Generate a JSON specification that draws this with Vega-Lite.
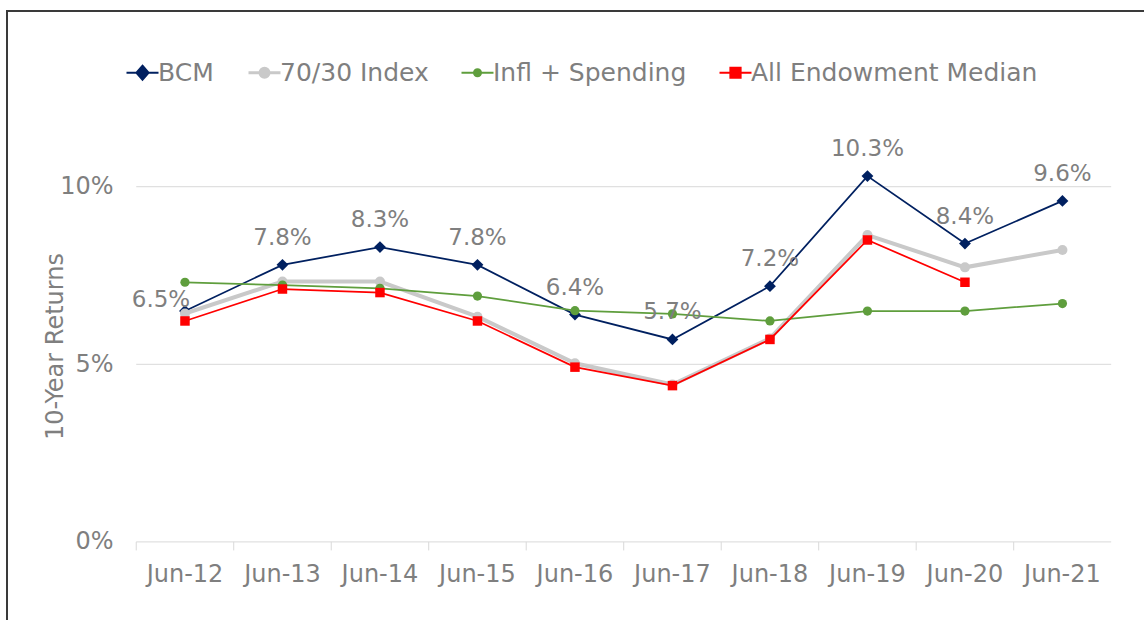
{
  "$schema": "https://vega.github.io/schema/vega-lite/v6.json",
  "width": 1145,
  "height": 617,
  "autosize": {"type": "none"},
  "padding": {"left": 7, "top": 11, "right": -8, "bottom": -8},
  "background": "white",
  "config": {
    "view": {"stroke": "#3a3a3a", "strokeWidth": 2},
    "font": "DejaVu Sans",
    "axis": {
      "labelFont": "DejaVu Sans", "titleFont": "DejaVu Sans",
      "labelColor": "#7f7f7f", "titleColor": "#7f7f7f",
      "labelFontSize": 24, "titleFontSize": 24, "titleFontWeight": "normal",
      "grid": false, "domain": false, "ticks": false
    },
    "axisX": {"labelAngle": 0, "offset": -86, "labelPadding": 32, "labelBaseline": "middle"},
    "axisY": {"offset": -129, "labelPadding": 23, "titleX": -81, "titleY": 335, "titleAngle": -90, "titleAlign": "center", "titleBaseline": "middle"}
  },
  "datasets": {
    "main": [
      {"d": "Jun-12", "s": "BCM", "v": 0.065},
      {"d": "Jun-13", "s": "BCM", "v": 0.078},
      {"d": "Jun-14", "s": "BCM", "v": 0.083},
      {"d": "Jun-15", "s": "BCM", "v": 0.078},
      {"d": "Jun-16", "s": "BCM", "v": 0.064},
      {"d": "Jun-17", "s": "BCM", "v": 0.057},
      {"d": "Jun-18", "s": "BCM", "v": 0.072},
      {"d": "Jun-19", "s": "BCM", "v": 0.103},
      {"d": "Jun-20", "s": "BCM", "v": 0.084},
      {"d": "Jun-21", "s": "BCM", "v": 0.096},
      {"d": "Jun-12", "s": "70/30 Index", "v": 0.0643},
      {"d": "Jun-13", "s": "70/30 Index", "v": 0.0733},
      {"d": "Jun-14", "s": "70/30 Index", "v": 0.0733},
      {"d": "Jun-15", "s": "70/30 Index", "v": 0.0634},
      {"d": "Jun-16", "s": "70/30 Index", "v": 0.0503},
      {"d": "Jun-17", "s": "70/30 Index", "v": 0.0443},
      {"d": "Jun-18", "s": "70/30 Index", "v": 0.0573},
      {"d": "Jun-19", "s": "70/30 Index", "v": 0.0864},
      {"d": "Jun-20", "s": "70/30 Index", "v": 0.0773},
      {"d": "Jun-21", "s": "70/30 Index", "v": 0.0822},
      {"d": "Jun-12", "s": "Infl + Spending", "v": 0.0731},
      {"d": "Jun-13", "s": "Infl + Spending", "v": 0.0723},
      {"d": "Jun-14", "s": "Infl + Spending", "v": 0.0714},
      {"d": "Jun-15", "s": "Infl + Spending", "v": 0.0692},
      {"d": "Jun-16", "s": "Infl + Spending", "v": 0.0651},
      {"d": "Jun-17", "s": "Infl + Spending", "v": 0.0642},
      {"d": "Jun-18", "s": "Infl + Spending", "v": 0.0622},
      {"d": "Jun-19", "s": "Infl + Spending", "v": 0.065},
      {"d": "Jun-20", "s": "Infl + Spending", "v": 0.065},
      {"d": "Jun-21", "s": "Infl + Spending", "v": 0.0671},
      {"d": "Jun-12", "s": "All Endowment Median", "v": 0.0622},
      {"d": "Jun-13", "s": "All Endowment Median", "v": 0.0712},
      {"d": "Jun-14", "s": "All Endowment Median", "v": 0.0702},
      {"d": "Jun-15", "s": "All Endowment Median", "v": 0.0622},
      {"d": "Jun-16", "s": "All Endowment Median", "v": 0.0492},
      {"d": "Jun-17", "s": "All Endowment Median", "v": 0.044},
      {"d": "Jun-18", "s": "All Endowment Median", "v": 0.057},
      {"d": "Jun-19", "s": "All Endowment Median", "v": 0.085},
      {"d": "Jun-20", "s": "All Endowment Median", "v": 0.0731}
    ],
    "grid": [{"g": 0}, {"g": 0.05}, {"g": 0.1}]
  },
  "data": {"name": "main"},
  "encoding": {
    "x": {
      "field": "d", "type": "nominal", "bandPosition": 0.5, "title": null,
      "scale": {"type": "band", "domain": ["Jun-12","Jun-13","Jun-14","Jun-15","Jun-16","Jun-17","Jun-18","Jun-19","Jun-20","Jun-21"], "paddingInner": 0, "paddingOuter": 0.872, "align": 0.76}
    },
    "y": {
      "field": "v", "type": "quantitative", "title": "10-Year Returns",
      "scale": {"domain": [-0.02424, 0.14947], "nice": false, "zero": false},
      "axis": {"values": [0, 0.05, 0.1], "format": ".0%"}
    }
  },
  "layer": [
    {
      "data": {"name": "grid"},
      "mark": {"type": "rule", "color": "#d9d9d9", "strokeWidth": 1},
      "encoding": {
        "y": {"field": "g", "type": "quantitative", "title": "10-Year Returns", "axis": {"values": [0, 0.05, 0.1], "format": ".0%"}},
        "x": {"datum": "Jun-12", "type": "nominal", "bandPosition": 0, "title": null},
        "x2": {"datum": "Jun-21", "bandPosition": 1}
      }
    },
    {
      "transform": [{"filter": "datum.s === 'BCM'"}],
      "mark": {"type": "rule", "color": "#d9d9d9", "strokeWidth": 1},
      "encoding": {
        "x": {"field": "d", "type": "nominal", "bandPosition": 0, "title": null},
        "y": {"datum": 0, "type": "quantitative", "title": "10-Year Returns", "axis": {"values": [0, 0.05, 0.1], "format": ".0%"}},
        "y2": {"datum": -0.0024}
      }
    },
    {
      "data": {"values": [{}]},
      "mark": {"type": "rule", "color": "#d9d9d9", "strokeWidth": 1},
      "encoding": {
        "x": {"datum": "Jun-21", "type": "nominal", "bandPosition": 1, "title": null},
        "y": {"datum": 0, "type": "quantitative", "title": "10-Year Returns", "axis": {"values": [0, 0.05, 0.1], "format": ".0%"}},
        "y2": {"datum": -0.0024}
      }
    },
    {
      "mark": {"type": "point", "opacity": 0, "filled": true},
      "encoding": {
        "color": {
          "field": "s", "type": "nominal",
          "scale": {"domain": ["BCM", "70/30 Index", "Infl + Spending", "All Endowment Median"], "range": ["#002060", "#c9c9c9", "#5f9e3d", "#ff0000"]},
          "legend": {
            "title": null, "orient": "none", "legendX": 123, "legendY": 49, "direction": "horizontal",
            "labelFont": "DejaVu Sans", "labelFontSize": 25, "labelColor": "#7f7f7f", "labelLimit": 500,
            "symbolSize": 1024, "labelOffset": 3, "columnPadding": 28, "padding": 0, "symbolOpacity": 1,
            "encode": {"symbols": {"update": {
              "stroke": {"scale": "color", "field": "value"},
              "fill": {"scale": "color", "field": "value"},
              "strokeWidth": {"signal": "datum.value === '70/30 Index' ? 3 : 2"},
              "opacity": {"value": 1},
              "size": {"value": 1024}
            }}}
          }
        },
        "shape": {
          "field": "s", "type": "nominal",
          "scale": {"domain": ["BCM", "70/30 Index", "Infl + Spending", "All Endowment Median"],
            "range": [
              "M-1,0H1M0,-0.44L0.38,0L0,0.44L-0.38,0Z",
              "M-1,0H1M-0.28,0A0.28,0.28,0,1,0,0.28,0A0.28,0.28,0,1,0,-0.28,0Z",
              "M-1,0H1M-0.22,0A0.22,0.22,0,1,0,0.22,0A0.22,0.22,0,1,0,-0.22,0Z",
              "M-1,0H1M-0.32,-0.32H0.32V0.32H-0.32Z"
            ]},
          "legend": {
            "title": null, "orient": "none", "legendX": 123, "legendY": 49, "direction": "horizontal",
            "labelFont": "DejaVu Sans", "labelFontSize": 25, "labelColor": "#7f7f7f", "labelLimit": 500,
            "symbolSize": 1024, "labelOffset": 3, "columnPadding": 28, "padding": 0, "symbolOpacity": 1
          }
        }
      }
    },
    {
      "transform": [{"filter": "datum.s === 'BCM'"}],
      "mark": {"type": "line", "color": "#002060", "strokeWidth": 1.75, "point": {"filled": true, "shape": "diamond", "size": 140, "color": "#002060"}}
    },
    {
      "transform": [{"filter": "datum.s === '70/30 Index'"}],
      "mark": {"type": "line", "color": "#c9c9c9", "strokeWidth": 4, "point": {"filled": true, "shape": "circle", "size": 100, "color": "#c9c9c9"}}
    },
    {
      "transform": [{"filter": "datum.s === 'Infl + Spending'"}],
      "mark": {"type": "line", "color": "#5f9e3d", "strokeWidth": 1.75, "point": {"filled": true, "shape": "circle", "size": 85, "color": "#5f9e3d"}}
    },
    {
      "transform": [{"filter": "datum.s === 'All Endowment Median'"}],
      "mark": {"type": "line", "color": "#ff0000", "strokeWidth": 1.75, "point": {"filled": true, "shape": "square", "size": 90, "color": "#ff0000"}}
    },
    {
      "transform": [{"filter": "datum.s === 'BCM' && datum.d !== 'Jun-12'"}],
      "mark": {"type": "text", "dy": -27, "fontSize": 23, "color": "#7f7f7f", "font": "DejaVu Sans", "baseline": "middle"},
      "encoding": {"text": {"field": "v", "type": "quantitative", "format": ".1%"}}
    },
    {
      "transform": [{"filter": "datum.s === 'BCM' && datum.d === 'Jun-12'"}],
      "mark": {"type": "text", "dx": -24, "dy": -11, "fontSize": 23, "color": "#7f7f7f", "font": "DejaVu Sans", "baseline": "middle"},
      "encoding": {"text": {"field": "v", "type": "quantitative", "format": ".1%"}}
    }
  ]
}
